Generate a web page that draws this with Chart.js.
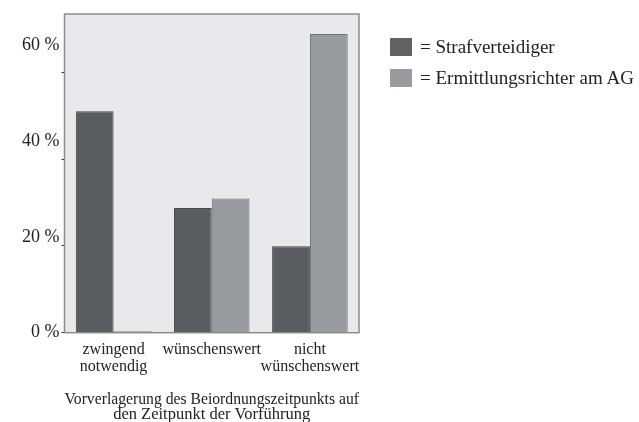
<!DOCTYPE html>
<html>
<head>
<meta charset="utf-8">
<script src="https://cdn.jsdelivr.net/npm/chart.js@4/dist/chart.umd.min.js"></script>
<style>
  body { margin: 0; background: #fff; }
  #wrap { position: relative; width: 639px; height: 422px; }
  #legend { position: absolute; left: 390px; top: 36px; font-family: 'Liberation Serif', serif; font-size: 19px; color: #222; }
  .item { display: flex; align-items: center; height: 22px; margin-bottom: 9px; white-space: nowrap; }
  .swatch { width: 22px; height: 18px; margin-right: 8px; }
</style>
</head>
<body>
<div id="wrap">
  <canvas id="chart" width="639" height="422"></canvas>
  <div id="legend"></div>
</div>
<script>
const categories = [['zwingend', 'notwendig'], 'wünschenswert', ['nicht', 'wünschenswert']];
const seriesLabels = ['Strafverteidiger', 'Ermittlungsrichter am AG'];
const strafverteidiger = [51.0, 28.7, 19.9];
const ermittlungsrichter = [0, 30.9, 68.8];
const axisTitle = ['Vorverlagerung des Beiordnungszeitpunkts auf', 'den Zeitpunkt der Vorführung'];

const fillColors = ['#5b5c60', '#999a9e'];
const edgeColors = ['#444549', '#6e6f73'];
const serif = 'Liberation Serif';

// grey plot box behind the bars
const plotFrame = {
    id: 'plotFrame',
    beforeDatasetsDraw(chart) {
        const { ctx, chartArea: a } = chart;
        ctx.save();
        ctx.fillStyle = '#e9e9eb';
        ctx.fillRect(a.left, a.top, a.width, a.height);
        ctx.strokeStyle = '#8d8d8d';
        ctx.lineWidth = 1.5;
        ctx.strokeRect(a.left, a.top, a.width, a.height);
        ctx.restore();
    }
};

const ctx = document.getElementById('chart').getContext('2d');
const myChart = new Chart(ctx, {
    type: 'bar',
    data: {
        labels: categories,
        datasets: [{
            label: seriesLabels[0],
            data: strafverteidiger,
            backgroundColor: fillColors[0],
            borderColor: edgeColors[0],
            borderWidth: 1
        }, {
            label: seriesLabels[1],
            data: ermittlungsrichter,
            backgroundColor: fillColors[1],
            borderColor: edgeColors[1],
            borderWidth: 1,
            minBarLength: 1.5
        }]
    },
    options: {
        responsive: false,
        animation: false,
        layout: { padding: { top: 14, right: 280, bottom: 0, left: 20 } },
        datasets: { bar: { categoryPercentage: 0.77, barPercentage: 1 } },
        plugins: { legend: { display: false }, tooltip: { enabled: false } },
        scales: {
            x: {
                grid: { display: false, drawTicks: false },
                border: { display: false },
                ticks: {
                    padding: 9,
                    maxRotation: 0,
                    minRotation: 0,
                    autoSkip: false,
                    color: '#222',
                    font: { family: serif, size: 16, lineHeight: 1.06 }
                },
                title: {
                    display: true,
                    text: axisTitle,
                    color: '#222',
                    font: { family: serif, size: 16.5, lineHeight: 0.92 },
                    padding: { top: 7, bottom: 0 }
                }
            },
            y: {
                min: 0,
                max: 73.4,
                ticks: { display: false, stepSize: 20, includeBounds: false },
                grid: { drawOnChartArea: false, tickLength: 3, color: '#333' },
                border: { display: false }
            },
            yLabels: {
                position: 'left',
                weight: 1,
                min: 0,
                max: 66.5,
                grid: { display: false, drawTicks: false },
                border: { display: false },
                ticks: {
                    stepSize: 20,
                    includeBounds: false,
                    padding: 2,
                    color: '#222',
                    font: { family: serif, size: 18 },
                    callback: (v) => v + ' %'
                }
            }
        }
    },
    plugins: [plotFrame]
});

// legend as html, from the dataset names and colours
const legend = document.getElementById('legend');
seriesLabels.forEach((name, i) => {
    const row = document.createElement('div');
    row.className = 'item';
    const sw = document.createElement('span');
    sw.className = 'swatch';
    sw.style.background = i === 0 ? '#616265' : '#9b9b9f';
    row.appendChild(sw);
    row.appendChild(document.createTextNode('= ' + name));
    legend.appendChild(row);
});
</script>
</body>
</html>
